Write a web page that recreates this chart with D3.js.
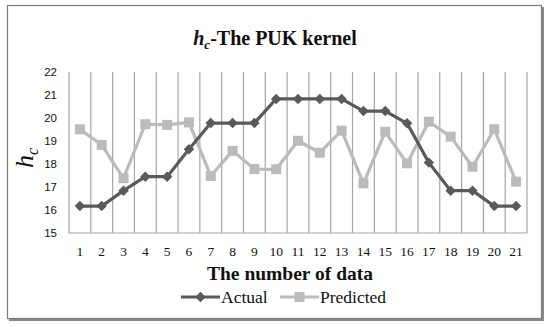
<!DOCTYPE html>
<html>
<head>
<meta charset="utf-8">
<script src="https://cdn.jsdelivr.net/npm/d3@7"></script>
<style>
  body { margin: 0; background: #fff; }
  svg { display: block; }
</style>
</head>
<body>
<svg id="chart" width="550" height="327"></svg>
<script>
// data
var categories = d3.range(1, 22);
var actual = [16.17, 16.17, 16.84, 17.45, 17.45, 18.64, 19.78, 19.78, 19.78, 20.83, 20.83,
              20.83, 20.83, 20.30, 20.30, 19.77, 18.06, 16.84, 16.84, 16.17, 16.17];
var predicted = [19.51, 18.83, 17.38, 19.73, 19.70, 19.81, 17.48, 18.57, 17.78, 17.77, 19.01,
                 18.49, 19.45, 17.16, 19.40, 18.03, 19.84, 19.19, 17.88, 19.51, 17.23];
var yTicks = [15, 16, 17, 18, 19, 20, 21, 22];

function drawChart() {
    var serif = "'Liberation Serif', 'DejaVu Serif', serif";
    var sans = "'Liberation Sans', Arial, sans-serif";

    var svg = d3.select("#chart");

    // outer frame with small shadow
    svg.append("rect").attr("x", 9).attr("y", 7).attr("width", 535).attr("height", 314)
        .attr("fill", "#8a8a8a");
    svg.append("rect").attr("x", 7.5).attr("y", 5.5).attr("width", 534).attr("height", 313)
        .attr("fill", "#fff").attr("stroke", "#7a7a7a").attr("stroke-width", 1.2);

    // plot area
    var pLeft = 69, pRight = 527, pTop = 72, pBottom = 233;

    var x = d3.scaleBand().domain(categories).range([pLeft, pRight]);
    var y = d3.scaleLinear().domain([15, 22]).range([pBottom, pTop]);

    // vertical gridlines at category boundaries
    var bounds = categories.map(function(c) { return x(c); }).concat([pRight]);
    svg.append("g").selectAll("line").data(bounds).enter().append("line")
        .attr("x1", function(d) { return d; }).attr("x2", function(d) { return d; })
        .attr("y1", pTop).attr("y2", pBottom)
        .attr("stroke", "#a6a6a6").attr("stroke-width", 1.2);

    // x axis line
    svg.append("line").attr("x1", pLeft).attr("x2", pRight)
        .attr("y1", pBottom).attr("y2", pBottom)
        .attr("stroke", "#a6a6a6").attr("stroke-width", 1.2);

    // y axis labels
    var yAxis = svg.append("g")
        .attr("transform", "translate(" + (pLeft - 12) + ",0)")
        .call(d3.axisLeft(y).tickValues(yTicks).tickFormat(d3.format("d")).tickSize(0).tickPadding(0));
    yAxis.select(".domain").remove();
    yAxis.selectAll("text").attr("font-family", sans).attr("font-size", 11.5).attr("fill", "#111");

    // x axis labels
    var xAxis = svg.append("g")
        .attr("transform", "translate(0," + pBottom + ")")
        .call(d3.axisBottom(x).tickSize(0).tickPadding(13));
    xAxis.select(".domain").remove();
    xAxis.selectAll("text").attr("font-family", serif).attr("font-size", 13.5).attr("fill", "#111");

    // lines
    var line = d3.line()
        .x(function(d, i) { return x(categories[i]) + x.bandwidth() / 2; })
        .y(function(d) { return y(d); });

    svg.append("path").datum(predicted)
        .attr("fill", "none").attr("stroke", "#bbbbbb").attr("stroke-width", 3.2)
        .attr("stroke-linejoin", "round").attr("d", line);
    svg.append("path").datum(actual)
        .attr("fill", "none").attr("stroke", "#5a5a5a").attr("stroke-width", 3.2)
        .attr("stroke-linejoin", "round").attr("d", line);

    // markers
    var sq = 10;
    svg.append("g").selectAll("rect").data(predicted).enter().append("rect")
        .attr("x", function(d, i) { return x(categories[i]) + x.bandwidth() / 2 - sq / 2; })
        .attr("y", function(d) { return y(d) - sq / 2; })
        .attr("width", sq).attr("height", sq)
        .attr("fill", "#bbbbbb");

    var diamond = d3.symbol().type(d3.symbolDiamond2).size(70);
    svg.append("g").selectAll("path").data(actual).enter().append("path")
        .attr("transform", function(d, i) {
            return "translate(" + (x(categories[i]) + x.bandwidth() / 2) + "," + y(d) + ")";
        })
        .attr("d", diamond)
        .attr("fill", "#5a5a5a");

    // chart title
    var title = svg.append("text")
        .attr("x", 275).attr("y", 45)
        .attr("text-anchor", "middle")
        .attr("font-family", serif).attr("font-size", 20).attr("font-weight", "bold")
        .attr("fill", "#111");
    title.append("tspan").attr("font-style", "italic").text("h");
    title.append("tspan").attr("font-style", "italic").attr("font-size", 13).attr("dy", 4).text("c");
    title.append("tspan").attr("dy", -4).text("-The PUK kernel");

    // y axis title
    var yTitle = svg.append("text")
        .attr("transform", "translate(33,158) rotate(-90)")
        .attr("text-anchor", "middle")
        .attr("font-family", serif).attr("font-size", 26)
        .attr("font-style", "italic").attr("fill", "#111");
    yTitle.append("tspan").text("h");
    yTitle.append("tspan").attr("font-size", 16).attr("dy", 5).text("c");

    // x axis title
    svg.append("text")
        .attr("x", 290).attr("y", 280)
        .attr("text-anchor", "middle")
        .attr("font-family", serif).attr("font-size", 19.5).attr("font-weight", "bold")
        .attr("fill", "#111")
        .text("The number of data");

    // legend
    var legendItems = [
        {name: "Actual", color: "#5a5a5a", shape: "diamond", x0: 181},
        {name: "Predicted", color: "#bbbbbb", shape: "square", x0: 280}
    ];
    var lg = svg.append("g").selectAll("g").data(legendItems).enter().append("g")
        .attr("transform", function(d) { return "translate(" + d.x0 + ",297)"; });
    lg.append("line").attr("x1", 0).attr("x2", 39).attr("y1", 0).attr("y2", 0)
        .attr("stroke", function(d) { return d.color; }).attr("stroke-width", 3.2);
    lg.each(function(d) {
        var g = d3.select(this);
        if (d.shape === "diamond") {
            g.append("path").attr("transform", "translate(19.5,0)").attr("d", diamond).attr("fill", d.color);
        } else {
            g.append("rect").attr("x", 19.5 - sq / 2).attr("y", -sq / 2)
                .attr("width", sq).attr("height", sq).attr("fill", d.color);
        }
    });
    lg.append("text").attr("x", 40).attr("y", 6)
        .attr("font-family", serif).attr("font-size", 17.5).attr("fill", "#111")
        .text(function(d) { return d.name; });
}

drawChart();
</script>
</body>
</html>
